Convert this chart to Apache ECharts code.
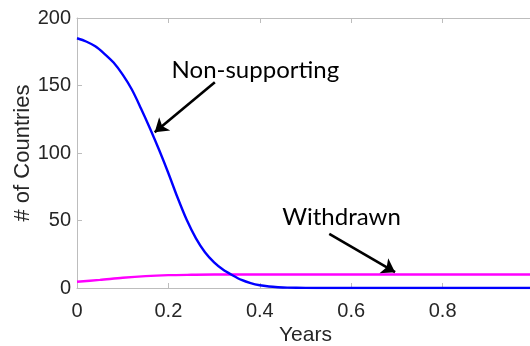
<!DOCTYPE html>
<html>
<head>
<meta charset="utf-8">
<script src="https://cdn.jsdelivr.net/npm/echarts@6/dist/echarts.min.js"></script>
<style>
  html, body { margin: 0; padding: 0; background: #fff; }
  #chart { width: 530px; height: 346px; }
</style>
</head>
<body>
<div id="chart"></div>
<script>
// Number of non-supporting countries over time
const nonSupportYears = [0, 0.02, 0.04, 0.06, 0.08, 0.10, 0.12, 0.14, 0.16, 0.18, 0.20, 0.22, 0.24, 0.26, 0.28, 0.30, 0.32, 0.34, 0.36, 0.38, 0.40, 0.42, 0.44, 0.46, 0.50, 0.55, 0.7, 0.85, 1.0];
const nonSupporting   = [185, 182.6, 179, 173.5, 167, 158, 147, 133, 118, 102, 85, 67, 50.5, 37, 26.5, 19, 13.5, 9.5, 6, 3.6, 2, 1.1, 0.6, 0.3, 0.1, 0, 0, 0, 0];

// Number of withdrawn countries over time
const withdrawnYears = [0, 0.05, 0.10, 0.15, 0.20, 0.25, 0.30, 0.40, 0.6, 0.8, 1.0];
const withdrawn      = [4.6, 6, 7.6, 8.8, 9.5, 9.8, 10, 10, 10, 10, 10];

const xTicks = [0, 0.2, 0.4, 0.6, 0.8, 1];
const yTicks = [0, 50, 100, 150, 200];

// Annotation anchors in data space: text position and arrow [fromX, fromY, toX, toY]
const nonSupportNote = { text: 'Non-supporting', at: [0.207, 161], arrow: [0.3016, 152.4, 0.170, 115.4] };
const withdrawnNote  = { text: 'Withdrawn', at: [0.449, 52.4], arrow: [0.552, 40.1, 0.696, 11.7] };

const axisGrey = '#bdbdbd';
const textDark = '#262626';
const axisFont = 'Liberation Sans, Arial, sans-serif';
const noteFont = 'Lato, "Noto Sans", sans-serif';

function zip(xs, ys) { return xs.map((x, i) => [x, ys[i]]); }

function noteMarks(note) {
  const a = note.arrow;
  return {
    markLine: {
      silent: true,
      symbol: ['none', 'arrow'],
      symbolSize: 13,
      label: { show: false },
      lineStyle: { color: '#000', width: 2.6, type: 'solid' },
      itemStyle: { color: '#000' },
      emphasis: { disabled: true },
      animation: false,
      data: [[{ coord: [a[0], a[1]] }, { coord: [a[2], a[3]] }]]
    },
    markPoint: {
      silent: true,
      symbol: 'circle',
      symbolSize: 0,
      animation: false,
      label: {
        show: true,
        position: [0, 0],
        align: 'left',
        verticalAlign: 'middle',
        formatter: note.text,
        fontFamily: noteFont,
        fontSize: 24,
        color: '#000'
      },
      data: [{ coord: note.at }]
    }
  };
}

function lineSeries(name, xs, ys, color, z, note) {
  return Object.assign({
    name: name,
    type: 'line',
    data: zip(xs, ys),
    smooth: 0.3,
    showSymbol: false,
    lineStyle: { color: color, width: 2.4 },
    itemStyle: { color: color },
    z: z
  }, noteMarks(note));
}

const chart = echarts.init(document.getElementById('chart'));
chart.setOption({
  animation: false,
  backgroundColor: '#fff',
  grid: { left: 77, top: 18, right: -4, bottom: 58, containLabel: false, outerBoundsMode: 'none' },
  xAxis: [{
    type: 'value', min: 0, max: 1, interval: 0.2,
    name: 'Years', nameLocation: 'middle', nameGap: 37, nameMoveOverlap: false,
    nameTextStyle: { fontFamily: axisFont, fontSize: 21, color: textDark },
    axisLine: { show: true, lineStyle: { color: axisGrey, width: 1 } },
    axisTick: { show: true, inside: true, length: 5, lineStyle: { color: axisGrey } },
    axisLabel: {
      margin: 13, fontFamily: axisFont, fontSize: 20, color: textDark,
      showMinLabel: true, showMaxLabel: true, hideOverlap: false,
      formatter: v => xTicks.includes(Math.round(v * 10) / 10) ? String(Math.round(v * 10) / 10) : ''
    },
    splitLine: { show: false }
  }, {
    type: 'value', min: 0, max: 1, interval: 0.2, position: 'top',
    axisLine: { show: true, lineStyle: { color: axisGrey, width: 1 } },
    axisTick: { show: true, inside: true, length: 5, lineStyle: { color: axisGrey } },
    axisLabel: { show: false },
    splitLine: { show: false }
  }],
  yAxis: {
    type: 'value', min: 0, max: 200, interval: 50,
    name: '# of Countries', nameLocation: 'middle', nameGap: 43, nameMoveOverlap: false,
    nameTextStyle: { fontFamily: axisFont, fontSize: 22, color: textDark },
    axisLine: { show: true, lineStyle: { color: axisGrey, width: 1 } },
    axisTick: { show: true, inside: true, length: 5, lineStyle: { color: axisGrey } },
    axisLabel: {
      margin: 6, fontFamily: axisFont, fontSize: 20, color: textDark,
      formatter: v => yTicks.includes(v) ? String(v) : ''
    },
    splitLine: { show: false }
  },
  series: [
    lineSeries('Non-supporting', nonSupportYears, nonSupporting, '#0000ff', 3, nonSupportNote),
    lineSeries('Withdrawn', withdrawnYears, withdrawn, '#ff00ff', 2, withdrawnNote)
  ]
});
</script>
</body>
</html>
